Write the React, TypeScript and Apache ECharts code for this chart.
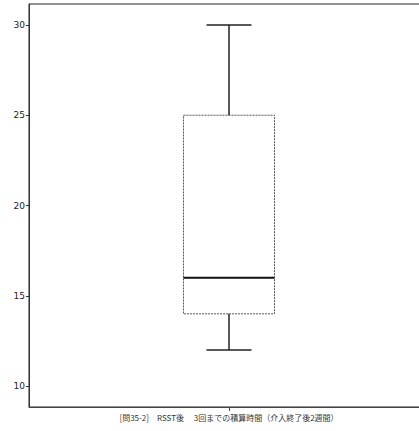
import React, { useEffect, useRef } from "react";
import * as echarts from "echarts";

const categories = ["[問35-2]　RSST後　 3回までの積算時間（介入終了後2週間）"];
// [min, Q1, median, Q3, max]
const boxValues = [[12, 14, 16, 25, 30]];
const yTicks = [10, 15, 20, 25, 30];

export default function App() {
  const ref = useRef<HTMLDivElement>(null);
  useEffect(() => {
    if (!ref.current) return;
    const chart = echarts.init(ref.current, null, { renderer: "svg" });
    const data = boxValues.map((v, i) => [i, ...v]);
    chart.setOption({
      animation: false,
      backgroundColor: "#fff",
      grid: {
        left: 29,
        top: 4,
        width: 400,
        bottom: 24,
        outerBoundsMode: "none",
        containLabel: false,
        show: true,
        borderColor: "#222",
        borderWidth: 1,
        backgroundColor: "transparent",
      },
      xAxis: {
        type: "category",
        data: categories,
        boundaryGap: true,
        axisLine: { show: true, lineStyle: { color: "#444", width: 1 } },
        axisTick: { show: true, alignWithLabel: true, length: 4, lineStyle: { color: "#444" } },
        axisLabel: {
          color: "#333",
          fontSize: 8,
          margin: 6,
          fontFamily: "Noto Sans CJK JP",
        },
        splitLine: { show: false },
      },
      yAxis: {
        type: "value",
        min: 8.84,
        max: 31.16,
        axisLine: { show: true, lineStyle: { color: "#333", width: 1 } },
        axisTick: { show: true, length: 3, customValues: yTicks, lineStyle: { color: "#333" } },
        axisLabel: {
          customValues: yTicks,
          color: "#222",
          fontSize: 9,
          margin: 4,
          fontFamily: "DejaVu Sans",
        },
        splitLine: { show: false },
      },
      series: [
        {
          type: "custom",
          data,
          encode: { x: 0, y: [1, 2, 3, 4, 5] },
          renderItem: (params: any, api: any) => {
            const x = api.value(0);
            const band = api.size([1, 0])[0];
            const bw = band * 0.2275;
            const cw = band * 0.1125;
            const pMin = api.coord([x, api.value(1)]);
            const pQ1 = api.coord([x, api.value(2)]);
            const pMed = api.coord([x, api.value(3)]);
            const pQ3 = api.coord([x, api.value(4)]);
            const pMax = api.coord([x, api.value(5)]);
            const cx = pMin[0];
            const line = (x1: number, y1: number, x2: number, y2: number, w: number, c: string) => ({
              type: "line",
              shape: { x1, y1, x2, y2 },
              style: { stroke: c, lineWidth: w },
            });
            return {
              type: "group",
              children: [
                {
                  type: "rect",
                  shape: { x: cx - bw / 2, y: pQ3[1], width: bw, height: pQ1[1] - pQ3[1] },
                  style: { fill: "#fff", stroke: "#555", lineWidth: 1, lineDash: [2, 1] },
                },
                line(cx - bw / 2, pMed[1], cx + bw / 2, pMed[1], 2, "#111"),
                line(cx, pQ3[1], cx, pMax[1], 1.5, "#222"),
                line(cx, pQ1[1], cx, pMin[1], 1.5, "#222"),
                line(cx - cw / 2, pMax[1], cx + cw / 2, pMax[1], 1.5, "#222"),
                line(cx - cw / 2, pMin[1], cx + cw / 2, pMin[1], 1.5, "#222"),
              ],
            };
          },
        },
      ],
    });
    return () => chart.dispose();
  }, []);
  return (
    <div
      ref={ref}
      style={{ position: "fixed", left: 0, top: 0, width: 419, height: 431, background: "#fff" }}
    />
  );
}
